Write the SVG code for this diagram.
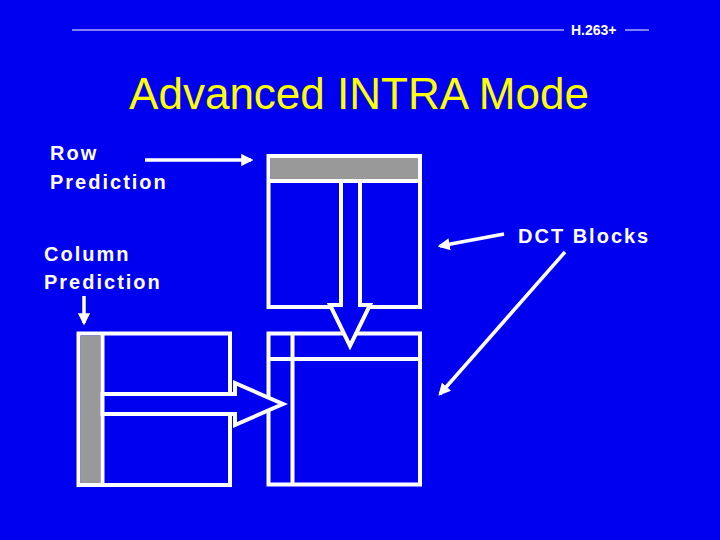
<svg xmlns="http://www.w3.org/2000/svg" width="720" height="540" viewBox="0 0 720 540">
<style>
.lbl{font-family:"Liberation Sans",Arial,sans-serif;font-size:20px;font-weight:bold;fill:#ffffff;letter-spacing:2px}
.blk{fill:#0000f0;stroke:#ffffff;stroke-width:4}
.ln{stroke:#ffffff;stroke-width:4;fill:none}
.gray{fill:#999999}
.arr{stroke:#ffffff;stroke-width:3.5;fill:none;marker-end:url(#ah)}
.big{fill:#0000f0;stroke:#ffffff;stroke-width:4;stroke-linejoin:miter}
</style>
<defs>
<marker id="ah" viewBox="0 0 10 10" refX="8" refY="5" markerWidth="3.5" markerHeight="3.5" orient="auto" markerUnits="strokeWidth">
<path d="M0,0 L10,5 L0,10 z" fill="#ffffff"/>
</marker>
</defs>
<rect x="0" y="0" width="720" height="540" fill="#0000f0"/>
<g id="header">
<line x1="72" y1="30" x2="564" y2="30" stroke="#ffffff" stroke-width="1"/>
<text x="571" y="35" font-family="Liberation Sans, Arial, sans-serif" font-size="14" font-weight="bold" fill="#ffffff">H.263+</text>
<line x1="625" y1="30" x2="649" y2="30" stroke="#ffffff" stroke-width="1"/>
</g>
<g id="title">
<text x="359" y="109" text-anchor="middle" font-family="Liberation Sans, Arial, sans-serif" font-size="44" fill="#ffff00">Advanced INTRA Mode</text>
</g>
<g id="label-row"><text class="lbl" x="50" y="160">Row</text><text class="lbl" x="50" y="189">Prediction</text></g>
<g id="label-column"><text class="lbl" x="44" y="261">Column</text><text class="lbl" x="44" y="289">Prediction</text></g>
<g id="label-dct"><text class="lbl" x="518" y="243">DCT Blocks</text></g>
<g id="block-top">
<rect class="blk" x="268.5" y="156" width="151.5" height="151"/>
<rect class="gray" x="270.5" y="158" width="147.5" height="21"/>
<line class="ln" x1="268.5" y1="181" x2="420" y2="181"/>
</g>
<g id="block-left">
<rect class="blk" x="78.5" y="333.5" width="151.5" height="151.5"/>
<rect class="gray" x="80.5" y="335.5" width="20" height="147.5"/>
<line class="ln" x1="102.5" y1="333.5" x2="102.5" y2="485"/>
</g>
<g id="block-current">
<rect class="blk" x="268.5" y="333.5" width="151.5" height="151"/>
<line class="ln" x1="292.5" y1="333.5" x2="292.5" y2="484.5"/>
<line class="ln" x1="268.5" y1="359" x2="420" y2="359"/>
</g>
<g id="connectors">
<polygon class="big" points="341,181 360,181 360,305 370,305 350,346 330,305 341,305"/>
<polygon class="big" points="102.5,394 235,394 235,383 283,404 235,425 235,414 102.5,414"/>
<line class="arr" x1="145" y1="160" x2="251" y2="160"/>
<line class="arr" x1="84" y1="296" x2="84" y2="323"/>
<line class="arr" x1="504" y1="234" x2="440" y2="246"/>
<line class="arr" x1="565" y1="252" x2="440" y2="394"/>
</g>
</svg>
